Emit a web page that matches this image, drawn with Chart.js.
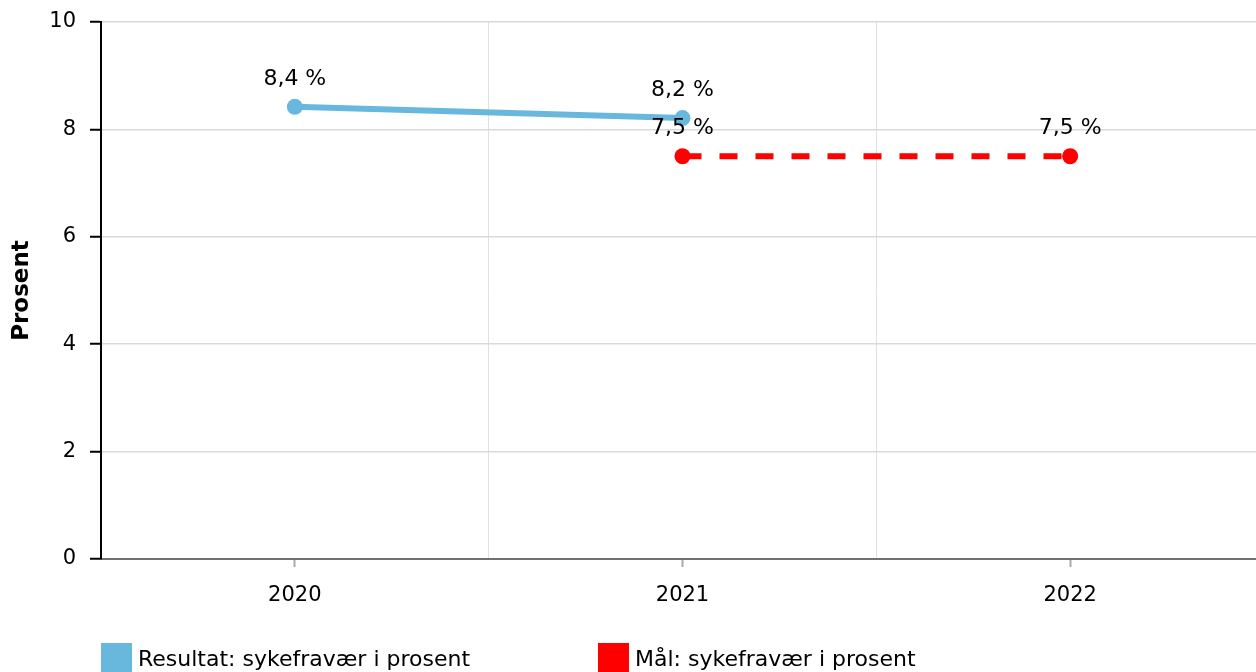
<!DOCTYPE html>
<html>
<head>
<meta charset="utf-8">
<script src="https://cdn.jsdelivr.net/npm/chart.js@4/dist/chart.umd.min.js"></script>
<style>
html,body{margin:0;padding:0;background:#fff;overflow:hidden;}
#wrap{width:1256px;height:672px;}
#c{display:block;}
</style>
</head>
<body>
<div id="wrap"><canvas id="c" width="1256" height="672"></canvas></div>
<script>
const categories = ['2020', '2021', '2022'];
const resultatValues = [8.42, 8.21, null];
const malValues = [null, 7.5, 7.5];
const seriesNames = ['Resultat: sykefravær i prosent', 'Mål: sykefravær i prosent'];
const yTicks = [0, 2, 4, 6, 8, 10];
const FONT = "'DejaVu Sans', Verdana, sans-serif";
// the plot area continues a little past the right edge of the picture
const PLOT_OVERHANG = 16;

function fmt(v) { return v.toFixed(1).replace('.', ',') + ' %'; }
const displayVals = [[8.4, 8.2, null], [null, 7.5, 7.5]];

const labelPlugin = {
  id: 'pointLabels',
  afterDatasetsDraw(chart) {
    const ctx = chart.ctx;
    ctx.save();
    ctx.font = "22px " + FONT;
    ctx.fillStyle = '#000';
    ctx.textAlign = 'center';
    ctx.textBaseline = 'middle';
    chart.data.datasets.forEach((ds, di) => {
      const meta = chart.getDatasetMeta(di);
      meta.data.forEach((pt, i) => {
        const v = displayVals[di][i];
        if (v == null) return;
        ctx.fillText(fmt(v), pt.x, pt.y - 28);
      });
    });
    ctx.restore();
  }
};

const legendPlugin = {
  id: 'customLegend',
  afterDraw(chart) {
    const ctx = chart.ctx;
    ctx.save();
    ctx.font = "22px " + FONT;
    ctx.textAlign = 'left';
    ctx.textBaseline = 'middle';
    const xs = [101, 598];
    chart.data.datasets.forEach((ds, i) => {
      ctx.fillStyle = ds.borderColor;
      ctx.fillRect(xs[i], 643, 31, 31);
      ctx.fillStyle = '#000';
      ctx.fillText(ds.label, xs[i] + 37, 660);
    });
    ctx.restore();
  }
};

const overhangPlugin = {
  id: 'overhang',
  afterLayout(chart) {
    ['x', 'x2'].forEach(id => {
      const s = chart.scales[id];
      s.right = s.right + PLOT_OVERHANG;
      s.width = s.right - s.left;
      s.configure();
    });
    chart.chartArea.right += PLOT_OVERHANG;
    chart.chartArea.width = chart.chartArea.right - chart.chartArea.left;
  }
};

function noPad(scale) {
  scale.paddingTop = 0; scale.paddingBottom = 0;
  scale.paddingLeft = 0; scale.paddingRight = 0;
}

new Chart(document.getElementById('c'), {
  type: 'line',
  data: {
    labels: categories,
    datasets: [
      {
        label: seriesNames[0],
        data: resultatValues,
        borderColor: '#68b7dc',
        backgroundColor: '#68b7dc',
        borderWidth: 6,
        pointRadius: 8,
        pointHoverRadius: 8,
        pointBorderWidth: 0,
        spanGaps: false,
        tension: 0
      },
      {
        label: seriesNames[1],
        data: malValues,
        borderColor: '#ff0000',
        backgroundColor: '#ff0000',
        borderWidth: 6,
        borderDash: [18, 18],
        borderDashOffset: -1,
        pointRadius: 8,
        pointHoverRadius: 8,
        pointBorderWidth: 0,
        tension: 0
      }
    ]
  },
  options: {
    responsive: false,
    animation: false,
    devicePixelRatio: 1,
    layout: { padding: { top: 22, right: 0, bottom: 0, left: 0 } },
    plugins: {
      legend: { display: false },
      tooltip: { enabled: false }
    },
    scales: {
      x: {
        type: 'category',
        position: 'bottom',
        offset: true,
        grid: {
          offset: false,
          drawOnChartArea: false,
          drawTicks: true,
          tickLength: 8,
          tickColor: '#aaaaaa',
          tickWidth: 2
        },
        border: { display: true, color: '#707070', width: 2 },
        ticks: {
          color: '#000',
          font: { family: FONT, size: 21 },
          padding: 16,
          maxRotation: 0
        },
        afterFit(scale) { scale.height = 113; noPad(scale); }
      },
      x2: {
        type: 'category',
        labels: categories,
        position: 'bottom',
        offset: true,
        grid: {
          offset: true,
          drawOnChartArea: true,
          drawTicks: false,
          color: '#e0e0e0',
          lineWidth: 1
        },
        border: { display: false },
        ticks: { display: false },
        afterFit(scale) { scale.height = 0; noPad(scale); }
      },
      y: {
        min: 0,
        max: 10,
        afterBuildTicks(scale) { scale.ticks = yTicks.map(v => ({ value: v })); },
        grid: {
          color: '#d9d9d9',
          lineWidth: 1.5,
          tickColor: '#000',
          tickLength: 11,
          tickWidth: 2
        },
        border: { display: true, color: '#000', width: 2 },
        ticks: {
          color: '#000',
          font: { family: FONT, size: 21 },
          padding: 14
        },
        title: {
          display: true,
          text: 'Prosent',
          color: '#000',
          font: { family: FONT, size: 23, weight: 'bold' },
          padding: { top: 8, bottom: 0 }
        },
        afterFit(scale) { scale.width = 101; noPad(scale); }
      }
    }
  },
  plugins: [overhangPlugin, labelPlugin, legendPlugin]
});
</script>
</body>
</html>
